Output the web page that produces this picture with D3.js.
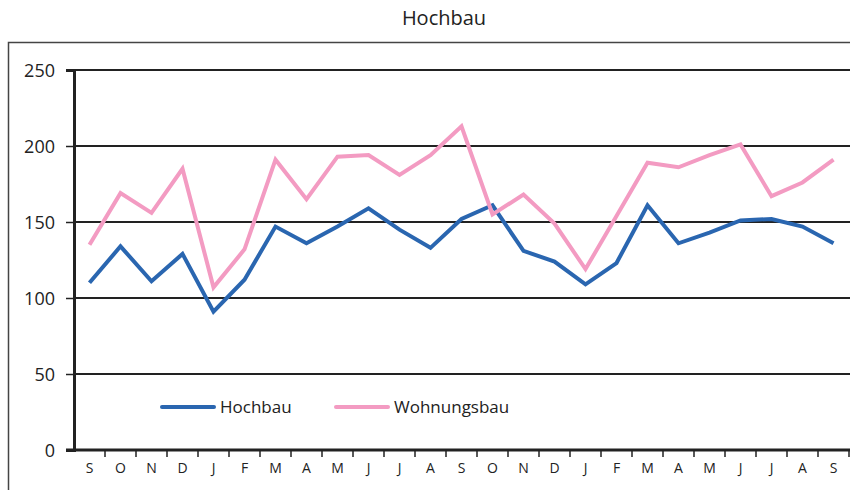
<!DOCTYPE html>
<html>
<head>
<meta charset="utf-8">
<script src="https://cdn.jsdelivr.net/npm/d3@7"></script>
<style>
  body { margin: 0; background: #fff; }
  svg text { font-family: "Open Sans", "DejaVu Sans", sans-serif; fill: #222; }
</style>
</head>
<body>
<div class="container"></div>
<script>
var w = 850;
var h = 490;

var months = ["S", "O", "N", "D", "J", "F", "M", "A", "M", "J", "J", "A", "S",
              "O", "N", "D", "J", "F", "M", "A", "M", "J", "J", "A", "S"];
var hochbau = [110, 134, 111, 129, 91, 112, 147, 136, 147, 159, 145, 133, 152,
               161, 131, 124, 109, 123, 161, 136, 143, 151, 152, 147, 136];
var wohnungsbau = [135, 169, 156, 185, 107, 132, 191, 165, 193, 194, 181, 194, 213,
                   155, 168, 149, 119, 154, 189, 186, 194, 201, 167, 176, 191];
var yTicks = [0, 50, 100, 150, 200, 250];
var seriesNames = ["Hochbau", "Wohnungsbau"];
var colors = ["#2a66b0", "#f39bc2"];

var margin = {left: 74, right: 1, top: 70, bottom: 40};

var canvas = d3.select(".container").append("svg")
  .attr("width", w)
  .attr("height", h);

// outer frame
canvas.append("rect")
  .attr("x", 8.5).attr("y", 42.5)
  .attr("width", 860).attr("height", 500)
  .attr("fill", "none").attr("stroke", "#444").attr("stroke-width", 1.5);

canvas.append("text")
  .attr("x", 444).attr("y", 25)
  .attr("text-anchor", "middle")
  .style("font-size", "20px")
  .text("Hochbau");

var xScale = d3.scaleBand().domain(d3.range(months.length)).range([margin.left, w - margin.right]);
var yScale = d3.scaleLinear().domain([0, 250]).range([450, 70]);

// gridlines
canvas.append("g").selectAll("line").data(yTicks.slice(1)).enter().append("line")
  .attr("x1", margin.left).attr("x2", w)
  .attr("y1", (d) => yScale(d)).attr("y2", (d) => yScale(d))
  .attr("stroke", "#222").attr("stroke-width", 2);

// y axis
var yAxis = canvas.append("g")
  .attr("transform", "translate(" + margin.left + ",0)")
  .call(d3.axisLeft(yScale).tickValues(yTicks).tickSize(8).tickPadding(11));
yAxis.select(".domain").attr("stroke", "#222").attr("stroke-width", 3);
yAxis.selectAll(".tick line").attr("stroke", "#222").attr("stroke-width", 1.5);
yAxis.selectAll(".tick text").style("font-size", "18px").attr("fill", "#222").attr("dy", "0.36em");

// x axis
var xAxis = canvas.append("g")
  .attr("transform", "translate(0," + yScale(0) + ")")
  .call(d3.axisBottom(xScale).tickFormat((i) => months[i]).tickSize(0).tickPadding(13));
xAxis.select(".domain").remove();
xAxis.selectAll(".tick text").style("font-size", "14px").attr("fill", "#333");

canvas.append("line")
  .attr("x1", margin.left - 8).attr("x2", w)
  .attr("y1", yScale(0)).attr("y2", yScale(0))
  .attr("stroke", "#222").attr("stroke-width", 3);

canvas.append("g").selectAll("line").data(d3.range(months.length)).enter().append("line")
  .attr("x1", (d) => xScale(d) + xScale.bandwidth()).attr("x2", (d) => xScale(d) + xScale.bandwidth())
  .attr("y1", yScale(0)).attr("y2", yScale(0) + 7)
  .attr("stroke", "#222").attr("stroke-width", 1.5);

var line = d3.line()
  .x((d, i) => xScale(i) + xScale.bandwidth() / 2)
  .y((d) => yScale(d));

[hochbau, wohnungsbau].forEach(function (s, k) {
  canvas.append("path")
    .datum(s)
    .attr("d", line)
    .attr("fill", "none")
    .attr("stroke", colors[k])
    .attr("stroke-width", 4)
    .attr("stroke-linejoin", "miter");
});

// legend
var legend = canvas.append("g").selectAll("g").data(seriesNames).enter().append("g")
  .attr("transform", (d, i) => "translate(" + (162 + i * 174) + ",407)");
legend.append("line")
  .attr("x1", 0).attr("x2", 52)
  .attr("stroke", (d, i) => colors[i]).attr("stroke-width", 4).attr("stroke-linecap", "round");
legend.append("text")
  .attr("x", 58).attr("y", 6)
  .style("font-size", "17px")
  .text((d) => d);
</script>
</body>
</html>
